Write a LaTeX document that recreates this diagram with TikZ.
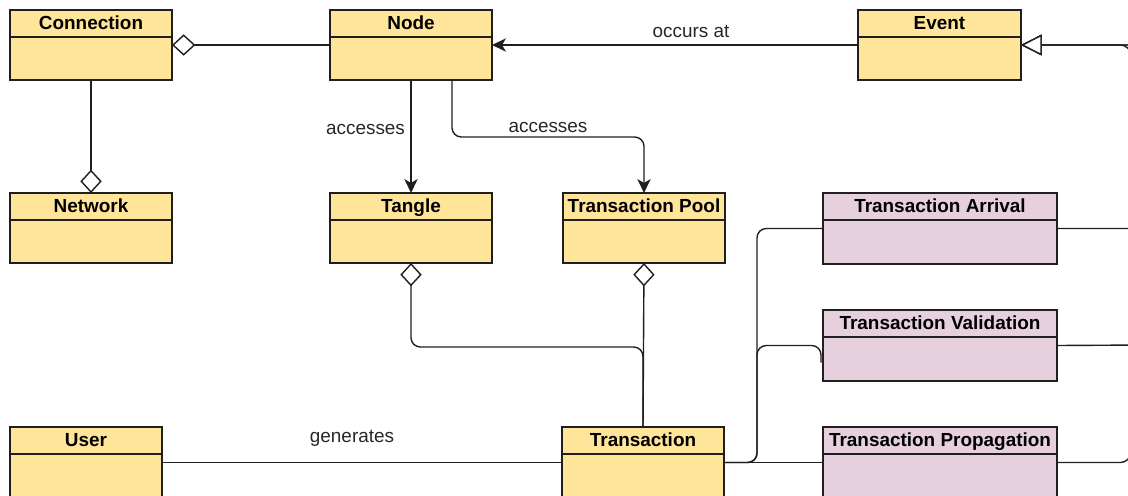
\documentclass[tikz,border=0pt]{standalone}
\usepackage{fontspec}
\setmainfont{Liberation Sans}
\usetikzlibrary{arrows.meta}

% \classbox{name}{left}{top}{width}{height}{title}{fill style}
\newcommand\classbox[7]{%
  \node[classbody, #7, minimum width=#4*0.75pt, minimum height=#5*0.75pt,
        anchor=north west] (#1) at (#2,#3) {};
  \draw[classline] ([yshift=-20.25pt]#1.north west) -- ([yshift=-20.25pt]#1.north east);
  \node[classtitle] (#1-title) at ([yshift=-14.25pt]#1.north) {#6};
}

\tikzset{
  classbody/.style={draw=black!88, line width=1.15pt, rectangle, inner sep=0pt, outer sep=0pt},
  yellowfill/.style={fill=yellowbox},
  pinkfill/.style={fill=pinkbox},
  classline/.style={draw=black!88, line width=1pt},
  classtitle/.style={anchor=base, font=\fontsize{14.2}{16}\selectfont\bfseries, inner sep=0pt},
  edgelabel/.style={font=\fontsize{14.2}{16}\selectfont, text=black!85, inner sep=0pt},
  link/.style={draw=black!88, line width=1.05pt, rounded corners=7pt},
  assoc/.style={link, -{Stealth[length=10.5pt, width=10pt, inset=3pt]}},
  aggr/.style={link, -{Diamond[open, length=17.5pt, width=16pt, fill=white]}},
  gener/.style={link, -{Triangle[open, length=15.5pt, width=15.5pt, fill=white]}},
}
\definecolor{yellowbox}{HTML}{FFE599}
\definecolor{pinkbox}{HTML}{E6D0DE}

\begin{document}
\begin{tikzpicture}[x=0.75pt, y=-0.75pt]
\path[use as bounding box] (0,0) rectangle (1128,496);
\clip (0,0) rectangle (1128,496);

% classes
\classbox{conn}{10}{10}{162}{70}{Connection}{yellowfill}
\classbox{node}{330}{10}{162}{70}{Node}{yellowfill}
\classbox{event}{858}{10}{163}{70}{Event}{yellowfill}
\classbox{net}{10}{193}{162}{70}{Network}{yellowfill}
\classbox{tangle}{330}{193}{162}{70}{Tangle}{yellowfill}
\classbox{pool}{563}{193}{162}{70}{Transaction Pool}{yellowfill}
\classbox{arr}{823}{193}{234}{71}{Transaction Arrival}{pinkfill}
\classbox{valid}{823}{310}{234}{71}{Transaction Validation}{pinkfill}
\classbox{prop}{823}{427}{234}{71}{Transaction Propagation}{pinkfill}
\classbox{user}{10}{427}{152}{71}{User}{yellowfill}
\classbox{trans}{562}{427}{162}{71}{Transaction}{yellowfill}

% aggregations
\draw[aggr] (node.west) -- (conn.east);
\draw[aggr] (conn.south) -- (net.north);
\draw[aggr] (trans.north) -- (pool.south);
\draw[aggr] (trans.north) -- ++(0,-80) -| (tangle.south);

% associations
\draw[assoc] (event.west) -- node[edgelabel, pos=0.456, anchor=base, yshift=6pt] {occurs at} (node.east);
\draw[assoc] (node.south) -- node[edgelabel, pos=0.478, anchor=base east, xshift=-4pt] {accesses} (tangle.north);
\draw[assoc] ([xshift=30.75pt]node.south) -- ++(0,57)
  -| node[edgelabel, pos=0.25, anchor=base, yshift=3.75pt] {accesses} (pool.north);
\draw[link] (user.east) -- node[edgelabel, pos=0.475, anchor=base, yshift=15pt] {generates} (trans.west);

% transaction to its events
\draw[link] (trans.east) -- ++(33,0) |- (arr.west);
\draw[link] (trans.east) -- ++(33,0) |- ([xshift=-1.5pt]valid.west) -- ++(0,17);
\draw[link] (trans.east) -- (prop.west);

% event specialisations
\draw[gener] (arr.east) -- (1145,228.5) |- (event.east);
\draw[gener] (valid.east) -- (1145,345) |- (event.east);
\draw[gener, rounded corners=8pt] (prop.east) -- (1131,462.5) |- (event.east);
\end{tikzpicture}
\end{document}
